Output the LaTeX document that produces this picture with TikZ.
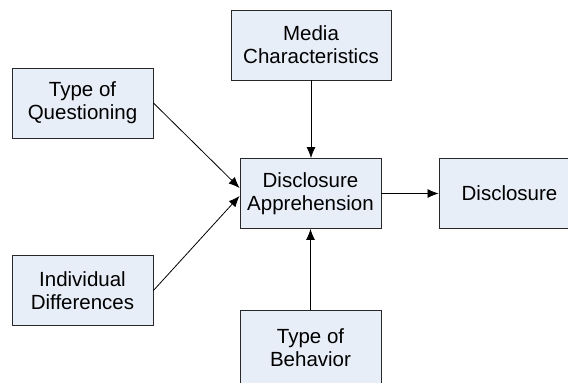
\documentclass[tikz,border=0pt]{standalone}
\usepackage{fontspec}
\setmainfont{Liberation Sans}
\usetikzlibrary{arrows.meta}
\definecolor{boxfill}{RGB}{232,238,248}
\definecolor{boxline}{RGB}{40,40,40}
\begin{document}
\begin{tikzpicture}[x=1pt,y=-1pt,
  box/.style={draw=boxline,line width=0.9pt,fill=boxfill,minimum width=141pt,minimum height=70pt,
    align=center,inner sep=0pt,font=\fontsize{20.5}{23}\selectfont},
  conn/.style={draw=black,line width=0.8pt,-{Latex[length=11pt,width=9pt]}}]
\useasboundingbox (0,0) rectangle (568,383);
\begin{scope}
\clip (0,0) rectangle (568,383);
\node[box,minimum width=160pt] (media) at (311,45) {Media\\Characteristics};
\node[box] (tq) at (82.5,103) {Type of\\Questioning};
\node[box] (id) at (82.5,290.5) {Individual\\Differences};
\node[box] (da) at (310.5,193.5) {Disclosure\\Apprehension};
\node[box] (dis) at (509.5,193.5) {Disclosure};
\node[box,minimum height=75pt] (tb) at (310.5,347.5) {Type of\\Behavior};
\coordinate (ta) at (da.west |- 0,188);
\coordinate (tb2) at (da.west |- 0,196);
\draw[conn] (media.south) -- (media.south |- da.north);
\draw[conn] (tq.east) -- (ta);
\draw[conn] (id.east) -- (tb2);
\draw[conn] (tb.north) -- (tb.north |- da.south);
\draw[conn] (da) -- (dis);
\end{scope}
\end{tikzpicture}
\end{document}
